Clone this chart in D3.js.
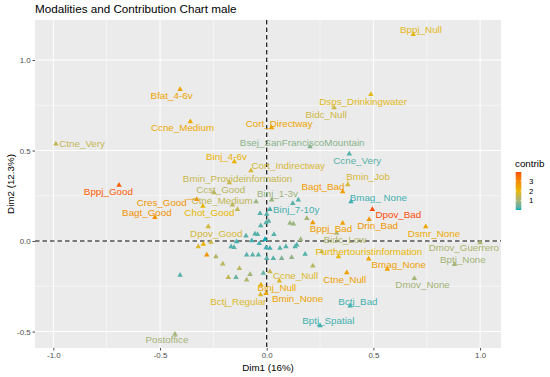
<!DOCTYPE html>
<html>
<head>
<meta charset="utf-8">
<script src="https://cdn.jsdelivr.net/npm/d3@7"></script>
<style>
body{margin:0;background:#fff;}
text{font-family:"Liberation Sans",Arial,Helvetica,sans-serif;}
</style>
</head>
<body>
<div id="chart"></div>
<script>
// labelled modalities: name, Dim1, Dim2, contrib
var modality=['Bfat_4-6v','Ccne_Medium','Ctne_Very','Cort_Directway','Bsej_SanFranciscoMountain','Binj_4-6v',
	'Cort_Indirectway','Bmin_Provideinformation','Ccst_Good','Ctne_Medium','Chot_Good','Cres_Good','Bppj_Good',
	'Bagt_Good','Dpov_Good','Postoffice','Bctj_Regular','Binj_Null','Bmin_None','Ccne_Null','Ctne_Null','Bctj_Bad',
	'Bptj_Spatial','Dmov_None','Bptj_None','Dmov_Guerrero','Bmag_None','Furthertouristinformation','Dsmr_None',
	'Drin_Bad','Dpov_Bad','Bppj_Bad','Bidc_Low','Bmag_ None','Binj_7-10y','Binj_1-3v','Bagt_Bad','Bmin_Job',
	'Ccne_Very','Bidc_Null','Dsps_Drinkingwater','Bppj_Null'];
var dim1=[-0.406,-0.358,-0.988,0.023,0.203,-0.152,
	-0.074,-0.175,-0.247,-0.161,-0.299,-0.328,-0.692,
	-0.524,-0.274,-0.430,-0.029,-0.027,-0.003,0.059,0.375,0.391,
	0.250,0.692,0.880,1.000,0.565,0.336,0.745,
	0.480,0.495,0.356,0.328,0.395,0.015,0.023,0.356,0.380,
	0.387,0.316,0.488,0.687];
var dim2=[0.838,0.659,0.536,0.626,0.521,0.438,
	0.388,0.322,0.267,0.199,0.193,0.230,0.309,
	0.131,0.079,-0.514,-0.296,-0.243,-0.290,-0.221,-0.175,-0.359,
	-0.468,-0.206,-0.129,-0.009,-0.156,-0.087,0.079,
	0.120,0.175,0.098,0.043,0.217,0.175,0.227,0.272,0.312,
	0.481,0.736,0.810,1.142];
var contrib=[2.4,2.3,1.4,2.4,0.7,2.1,
	1.7,1.5,1.3,1.4,2.0,2.7,3.7,
	2.8,1.7,1.0,1.8,2.3,2.4,1.8,2.5,0.2,
	0.2,1.0,1.0,1.1,2.5,2.0,2.3,
	2.7,3.9,2.5,1.2,0.2,0.2,0.9,2.6,1.7,
	0.3,1.6,1.9,1.9];

// modalities whose labels were dropped
var otherDim1=[-0.137,-0.050,-0.406,-0.297,-0.261,-0.321,-0.281,-0.238,-0.206,-0.180,-0.144,-0.128,-0.094,-0.078,
	-0.016,-0.094,-0.066,-0.039,0.000,-0.167,-0.153,-0.141,-0.097,-0.055,-0.043,-0.070,-0.035,-0.008,-0.028,
	-0.003,0.009,-0.031,0.000,0.122,0.148,0.109,0.125,0.188,0.216,0.034,0.159,-0.003,0.015,0.062,0.090,0.133,
	0.141,0.180,0.031,0.070,0.117,0.216,0.258,0.478,0.015];
var otherDim2=[0.175,0.217,-0.188,-0.017,-0.007,-0.031,-0.077,-0.087,-0.127,-0.201,-0.201,-0.151,-0.215,-0.184,
	-0.178,-0.077,-0.077,-0.077,-0.096,-0.031,-0.035,-0.004,0.028,0.039,0.036,0.002,-0.013,0.009,0.085,
	0.101,0.110,0.153,0.149,0.208,0.227,0.098,0.094,0.125,0.101,0.037,0.009,-0.037,-0.040,-0.040,-0.031,-0.031,
	-0.022,-0.072,-0.096,-0.096,-0.090,-0.138,-0.059,-0.099,-0.169];
var otherContrib=[1.4,0.9,0.3,2.1,1.5,1.8,2.7,1.2,1.3,1.4,0.4,1.3,1.2,1.0,
	0.4,0.3,0.3,0.3,0.3,0.3,0.3,0.2,0.3,0.3,0.3,0.2,0.2,0.05,0.3,
	0.3,0.3,0.3,0.3,0.3,0.3,0.9,0.9,1.0,2.6,0.3,0.9,0.2,0.2,0.3,0.3,0.3,
	0.3,0.3,0.3,0.6,0.8,1.3,1.4,2.4,1.5];

var xTicks=[-1,-0.5,0,0.5,1];
var yTicks=[-0.5,0,0.5,1];
var legendTicks=[1,2,3];

// repel-style label offsets (px) from the point
var labelNudge={
	'Bfat_4-6v':[-8.5,6.7],'Ccne_Medium':[-7.8,6.3],'Ctne_Very':[26.2,0],'Cort_Directway':[7.6,-4],
	'Bsej_SanFranciscoMountain':[-7.8,-4],'Binj_4-6v':[-7.8,-5],'Cort_Indirectway':[37.3,-5],
	'Bmin_Provideinformation':[8.2,-4.4],'Ccst_Good':[6.7,-3.4],'Ctne_Medium':[-10.3,-4.5],'Chot_Good':[6.5,6.3],
	'Cres_Good':[-35,2.7],'Bppj_Good':[-10.7,6],'Bagt_Good':[-8,-5],'Dpov_Good':[8,6.6],'Postoffice':[-8,6],
	'Bctj_Regular':[-22.2,7.2],'Binj_Null':[16,2.7],'Bmin_None':[31.5,4.8],'Ccne_Null':[16.2,-5],
	'Ctne_Null':[-2,6.6],'Bctj_Bad':[7.8,-4.3],'Bptj_Spatial':[8.3,-5],'Dmov_None':[8.2,6.7],
	'Bptj_None':[8.4,-5],'Dmov_Guerrero':[-16.2,5],'Bmag_None':[11.5,-4.3],'Furthertouristinformation':[30.5,-5],
	'Dsmr_None':[8.3,6.6],'Drin_Bad':[8.5,6.4],'Dpov_Bad':[26,5.7],'Bppj_Bad':[-11.7,5],'Bidc_Low':[8.3,6.7],
	'Bmag_ None':[27.3,-4.4],'Binj_7-10y':[26.3,0.7],'Binj_1-3v':[5.8,-6],'Bagt_Bad':[-19.7,-5.2],
	'Bmin_Job':[20.3,-8],'Ccne_Very':[7.9,6.7],'Bidc_Null':[-8,6.6],'Dsps_Drinkingwater':[-7.7,6.7],'Bppj_Null':[7.7,-4.6]
};
// labels that got a repel segment back to their point
var withSegment=['Cres_Good','Bmin_Job'];

var W=550,H=377,
	pL=35,pR=501,pT=20,pB=348;

var svg=d3.select('#chart').append('svg').attr('width',W).attr('height',H);

var x=d3.scaleLinear().domain([-1.086,1.098]).range([pL,pR]);
var y=d3.scaleLinear().domain([-0.591,1.221]).range([pB,pT]);

var allC=contrib.concat(otherContrib),
	cMin=d3.min(allC),cMax=d3.max(allC);
var color=d3.scaleLinear()
	.domain([cMin,(cMin+cMax)/2,cMax])
	.range(['#00AFBB','#E7B800','#FC4E07'])
	.interpolate(d3.interpolateLab);

// panel
svg.append('rect').attr('x',pL).attr('y',pT).attr('width',pR-pL).attr('height',pB-pT).attr('fill','#EBEBEB');

var grid=svg.append('g');
var xMinor=d3.range(xTicks.length-1).map(function(i){return (xTicks[i]+xTicks[i+1])/2;}),
	yMinor=d3.range(yTicks.length-1).map(function(i){return (yTicks[i]+yTicks[i+1])/2;});
xMinor.push(xTicks[xTicks.length-1]+0.25);
xMinor.unshift(xTicks[0]-0.25);
yMinor.push(yTicks[yTicks.length-1]+0.25);
yMinor.unshift(yTicks[0]-0.25);
xMinor=xMinor.filter(function(v){return x(v)>pL && x(v)<pR;});
yMinor=yMinor.filter(function(v){return y(v)>pT && y(v)<pB;});

grid.selectAll('.xm').data(xMinor).enter().append('line')
	.attr('x1',function(d){return x(d);}).attr('x2',function(d){return x(d);})
	.attr('y1',pT).attr('y2',pB).attr('stroke','#fff').attr('stroke-width',0.5);
grid.selectAll('.ym').data(yMinor).enter().append('line')
	.attr('y1',function(d){return y(d);}).attr('y2',function(d){return y(d);})
	.attr('x1',pL).attr('x2',pR).attr('stroke','#fff').attr('stroke-width',0.5);
grid.selectAll('.xM').data(xTicks).enter().append('line')
	.attr('x1',function(d){return x(d);}).attr('x2',function(d){return x(d);})
	.attr('y1',pT).attr('y2',pB).attr('stroke','#fff').attr('stroke-width',1);
grid.selectAll('.yM').data(yTicks).enter().append('line')
	.attr('y1',function(d){return y(d);}).attr('y2',function(d){return y(d);})
	.attr('x1',pL).attr('x2',pR).attr('stroke','#fff').attr('stroke-width',1);

// zero lines
svg.append('line').attr('x1',pL).attr('x2',pR).attr('y1',y(0)).attr('y2',y(0))
	.attr('stroke','#000').attr('stroke-width',1.1).attr('stroke-dasharray','4.5,3');
svg.append('line').attr('x1',x(0)).attr('x2',x(0)).attr('y1',pT).attr('y2',pB)
	.attr('stroke','#000').attr('stroke-width',1.1).attr('stroke-dasharray','4.5,3');

// axes
var fmt=function(d){return d.toFixed(1);};
var gx=svg.append('g').attr('transform','translate(0,'+pB+')')
	.call(d3.axisBottom(x).tickValues(xTicks).tickFormat(fmt).tickSize(2.5).tickPadding(1.8));
var gy=svg.append('g').attr('transform','translate('+pL+',0)')
	.call(d3.axisLeft(y).tickValues(yTicks).tickFormat(fmt).tickSize(2.5).tickPadding(1.8));
[gx,gy].forEach(function(g){
	g.select('.domain').remove();
	g.selectAll('.tick line').attr('stroke','#333').attr('stroke-width',0.9);
	g.selectAll('.tick text').attr('fill','#4D4D4D').style('font-size','7.9px')
		.style('font-family','"Liberation Sans",Arial,sans-serif');
});

// points
var symbol=d3.symbol().type(d3.symbolTriangle).size(13);
var pts=svg.append('g');
otherDim1.forEach(function(v,i){
	pts.append('path').attr('d',symbol)
		.attr('transform','translate('+x(v)+','+y(otherDim2[i])+')')
		.attr('fill',color(otherContrib[i]));
});
modality.forEach(function(m,i){
	pts.append('path').attr('d',symbol)
		.attr('transform','translate('+x(dim1[i])+','+y(dim2[i])+')')
		.attr('fill',color(contrib[i]));
});

// labels
var labs=svg.append('g');
modality.forEach(function(m,i){
	var n=labelNudge[m]||[0,-6],
		px=x(dim1[i]),py=y(dim2[i]);
	var t=labs.append('text')
		.attr('x',px+n[0]).attr('y',py+n[1])
		.attr('text-anchor','middle').attr('dy','0.35em')
		.style('font-size','9.8px')
		.attr('fill',color(contrib[i]))
		.text(m);
	if(withSegment.indexOf(m)>=0){
		var b=t.node().getBBox(),
			ex=Math.max(b.x,Math.min(px,b.x+b.width)),
			ey=Math.max(b.y+2,Math.min(py,b.y+b.height-2));
		labs.append('line').attr('x1',ex).attr('y1',ey).attr('x2',px).attr('y2',py)
			.attr('stroke',color(contrib[i])).attr('stroke-width',0.6);
	}
});

// fit a text to the width it has in the picture
function fitWidth(sel,base,target){
	sel.style('font-size',base+'px');
	var w=sel.node().getComputedTextLength();
	if(w>0) sel.style('font-size',(base*target/w).toFixed(2)+'px');
	return sel;
}

// title and axis titles
fitWidth(svg.append('text').attr('x',pL).attr('y',13.3).attr('fill','#000')
	.text('Modalities and Contribution Chart male'),11.8,201.7);
fitWidth(svg.append('text').attr('x',268).attr('y',371).attr('text-anchor','middle')
	.attr('fill','#000').text('Dim1 (16%)'),9.8,51.7);
svg.append('text').attr('transform','translate(13.5,'+((pT+pB)/2)+') rotate(-90)').attr('text-anchor','middle')
	.style('font-size','9.8px').attr('fill','#000').text('Dim2 (12.3%)');

// legend
var lg=svg.append('g');
var barX=515.7,barW=5.6,barTop=172,barBot=210;
var ly=d3.scaleLinear().domain([cMin,cMax]).range([barBot,barTop]);
var grad=svg.append('defs').append('linearGradient').attr('id','cgrad')
	.attr('x1',0).attr('y1',1).attr('x2',0).attr('y2',0);
d3.range(0,1.0001,0.05).forEach(function(t){
	grad.append('stop').attr('offset',t).attr('stop-color',color(cMin+t*(cMax-cMin)));
});
lg.append('text').attr('x',515).attr('y',166.8).style('font-size','9.8px').attr('fill','#000').text('contrib');
lg.append('rect').attr('x',barX).attr('y',barTop).attr('width',barW).attr('height',barBot-barTop).attr('fill','url(#cgrad)');
legendTicks.forEach(function(t){
	lg.append('line').attr('x1',barX).attr('x2',barX+1.2).attr('y1',ly(t)).attr('y2',ly(t)).attr('stroke','#fff').attr('stroke-width',0.6);
	lg.append('line').attr('x1',barX+barW-1.2).attr('x2',barX+barW).attr('y1',ly(t)).attr('y2',ly(t)).attr('stroke','#fff').attr('stroke-width',0.6);
	lg.append('text').attr('x',529).attr('y',ly(t)).attr('dy','0.35em').style('font-size','7.9px').attr('fill','#000').text(t);
});
</script>
</body>
</html>
